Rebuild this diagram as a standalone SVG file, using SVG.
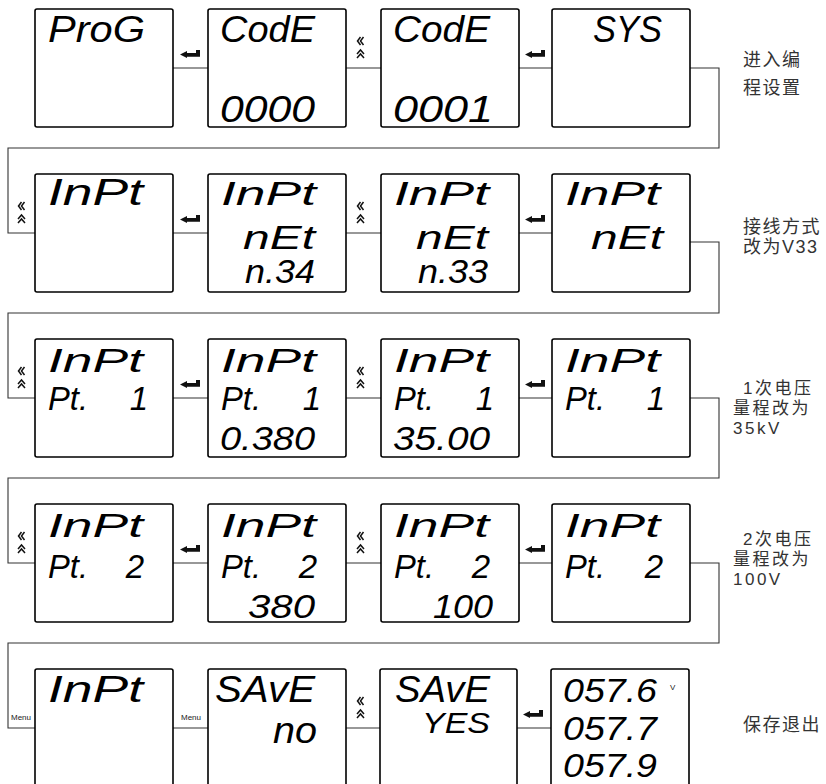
<svg xmlns="http://www.w3.org/2000/svg" xmlns:xlink="http://www.w3.org/1999/xlink" width="826" height="784" viewBox="0 0 826 784">
<style>
.box{fill:#fff;stroke:#000;stroke-width:1.6}
.conn{fill:none;stroke:#333;stroke-width:1.1}
.lcd{font-family:"Liberation Sans",Arial,sans-serif;font-style:italic;font-size:36px;fill:#000}
.lcd3{font-family:"Liberation Sans",Arial,sans-serif;font-style:italic;font-size:33px;fill:#000}
.lcd2{font-family:"Liberation Sans",Arial,sans-serif;font-style:italic;font-size:29px;fill:#000}
.lab{font-family:"Liberation Sans","Noto Sans CJK SC",sans-serif;font-size:18px;fill:#333;letter-spacing:1.5px}
.lab3{font-family:"Liberation Sans","Noto Sans CJK SC",sans-serif;font-size:17px;fill:#333;letter-spacing:2.5px}
.menu{font-family:"Liberation Sans",Arial,sans-serif;font-size:8px;fill:#222}
.ic{fill:none;stroke:#111;stroke-width:1.5}
</style>
<defs>
<path id="enter" d="M0,4.5 L7,1 V3 H16 V0 H20 V6.8 H7 V8 Z" fill="#111"/>
<g id="chev"><path class="ic" d="M3.5,0 L0.5,4 L3.5,8 M6.5,0 L3.5,4 L6.5,8 M0,17 L3.5,13 L7,17 M0,21 L3.5,17 L7,21"/></g>
</defs>
<g id="connectors">
<path class="conn" d="M173,68 H208 M346,68 H381 M519,68 H552 M690,68 H719 V148 H8 V233 H35"/>
<path class="conn" d="M173,233 H208 M346,233 H381 M519,233 H552 M690,242 H719 V313 H8 V398 H35"/>
<path class="conn" d="M173,398 H208 M346,398 H381 M519,398 H552 M690,398 H719 V478 H8 V563 H35"/>
<path class="conn" d="M173,563 H208 M346,563 H381 M519,563 H552 M690,563 H719 V643 H8 V728 H35"/>
<path class="conn" d="M173,728 H208 M346,728 H380 M517,728 H551"/>
<use xlink:href="#enter" x="180" y="50"/><use xlink:href="#chev" x="357" y="37"/><use xlink:href="#enter" x="525" y="50"/>
<use xlink:href="#chev" x="18" y="202"/><use xlink:href="#enter" x="180" y="215"/><use xlink:href="#chev" x="357" y="202"/><use xlink:href="#enter" x="525" y="215"/>
<use xlink:href="#chev" x="18" y="367"/><use xlink:href="#enter" x="180" y="380"/><use xlink:href="#chev" x="357" y="367"/><use xlink:href="#enter" x="525" y="380"/>
<use xlink:href="#chev" x="18" y="532"/><use xlink:href="#enter" x="180" y="545"/><use xlink:href="#chev" x="357" y="532"/><use xlink:href="#enter" x="525" y="545"/>
<text class="menu" x="11" y="720">Menu</text><text class="menu" x="181" y="720">Menu</text>
<use xlink:href="#chev" x="357" y="697"/><use xlink:href="#enter" x="523" y="710"/>
</g>
<!-- Row 1 -->
<g id="r1b1"><rect class="box" x="35" y="9" width="138" height="118" rx="2"/><text class="lcd" x="48" y="42" textLength="97" lengthAdjust="spacingAndGlyphs">ProG</text></g>
<g id="r1b2"><rect class="box" x="208" y="9" width="138" height="118" rx="2"/><text class="lcd" x="220" y="42" textLength="95" lengthAdjust="spacingAndGlyphs">CodE</text><text class="lcd" x="220" y="122" textLength="95" lengthAdjust="spacingAndGlyphs">0000</text></g>
<g id="r1b3"><rect class="box" x="381" y="9" width="138" height="118" rx="2"/><text class="lcd" x="393" y="42" textLength="97" lengthAdjust="spacingAndGlyphs">CodE</text><text class="lcd" x="393" y="122" textLength="100" lengthAdjust="spacingAndGlyphs">0001</text></g>
<g id="r1b4"><rect class="box" x="552" y="9" width="138" height="118" rx="2"/><text class="lcd" x="593" y="42" textLength="69" lengthAdjust="spacingAndGlyphs">SYS</text></g>
<g id="r1lab"><text class="lab" x="743" y="66">进入编</text><text class="lab" x="743" y="94">程设置</text></g>
<!-- Row 2 -->
<g id="r2b1"><rect class="box" x="35" y="174" width="138" height="118" rx="2"/><text class="lcd" x="48" y="205" textLength="95" lengthAdjust="spacingAndGlyphs">InPt</text></g>
<g id="r2b2"><rect class="box" x="208" y="174" width="138" height="118" rx="2"/><text class="lcd3" x="221" y="205" textLength="95" lengthAdjust="spacingAndGlyphs">InPt</text><text class="lcd3" x="243" y="249" textLength="72" lengthAdjust="spacingAndGlyphs">nEt</text><text class="lcd3" x="245" y="283" textLength="70" lengthAdjust="spacingAndGlyphs">n.34</text></g>
<g id="r2b3"><rect class="box" x="381" y="174" width="138" height="118" rx="2"/><text class="lcd3" x="394" y="205" textLength="95" lengthAdjust="spacingAndGlyphs">InPt</text><text class="lcd3" x="416" y="249" textLength="72" lengthAdjust="spacingAndGlyphs">nEt</text><text class="lcd3" x="418" y="283" textLength="70" lengthAdjust="spacingAndGlyphs">n.33</text></g>
<g id="r2b4"><rect class="box" x="552" y="174" width="138" height="118" rx="2"/><text class="lcd3" x="565" y="205" textLength="95" lengthAdjust="spacingAndGlyphs">InPt</text><text class="lcd3" x="591" y="249" textLength="72" lengthAdjust="spacingAndGlyphs">nEt</text></g>
<g id="r2lab"><text class="lab" x="743" y="233">接线方式</text><text class="lab" x="743" y="253">改为V33</text></g>
<!-- Row 3 -->
<g id="r3b1"><rect class="box" x="35" y="339" width="138" height="118" rx="2"/><text class="lcd3" x="48" y="372" textLength="95" lengthAdjust="spacingAndGlyphs">InPt</text><text class="lcd3" x="48" y="410" textLength="40" lengthAdjust="spacingAndGlyphs">Pt.</text><text class="lcd3" x="148" y="410" text-anchor="end">1</text></g>
<g id="r3b2"><rect class="box" x="208" y="339" width="138" height="118" rx="2"/><text class="lcd3" x="221" y="372" textLength="95" lengthAdjust="spacingAndGlyphs">InPt</text><text class="lcd3" x="221" y="410" textLength="40" lengthAdjust="spacingAndGlyphs">Pt.</text><text class="lcd3" x="321" y="410" text-anchor="end">1</text><text class="lcd3" x="220" y="450" textLength="95" lengthAdjust="spacingAndGlyphs">0.380</text></g>
<g id="r3b3"><rect class="box" x="381" y="339" width="138" height="118" rx="2"/><text class="lcd3" x="394" y="372" textLength="95" lengthAdjust="spacingAndGlyphs">InPt</text><text class="lcd3" x="394" y="410" textLength="40" lengthAdjust="spacingAndGlyphs">Pt.</text><text class="lcd3" x="494" y="410" text-anchor="end">1</text><text class="lcd3" x="393" y="450" textLength="97" lengthAdjust="spacingAndGlyphs">35.00</text></g>
<g id="r3b4"><rect class="box" x="552" y="339" width="138" height="118" rx="2"/><text class="lcd3" x="565" y="372" textLength="95" lengthAdjust="spacingAndGlyphs">InPt</text><text class="lcd3" x="565" y="410" textLength="40" lengthAdjust="spacingAndGlyphs">Pt.</text><text class="lcd3" x="665" y="410" text-anchor="end">1</text></g>
<g id="r3lab"><text class="lab3" x="743" y="394">1次电压</text><text class="lab3" x="733" y="414">量程改为</text><text class="lab3" x="733" y="434">35kV</text></g>
<!-- Row 4 -->
<g id="r4b1"><rect class="box" x="35" y="504" width="138" height="118" rx="2"/><text class="lcd3" x="48" y="537" textLength="95" lengthAdjust="spacingAndGlyphs">InPt</text><text class="lcd3" x="48" y="578" textLength="40" lengthAdjust="spacingAndGlyphs">Pt.</text><text class="lcd3" x="144" y="578" text-anchor="end">2</text></g>
<g id="r4b2"><rect class="box" x="208" y="504" width="138" height="118" rx="2"/><text class="lcd3" x="221" y="537" textLength="95" lengthAdjust="spacingAndGlyphs">InPt</text><text class="lcd3" x="221" y="578" textLength="40" lengthAdjust="spacingAndGlyphs">Pt.</text><text class="lcd3" x="317" y="578" text-anchor="end">2</text><text class="lcd3" x="248" y="618" textLength="67" lengthAdjust="spacingAndGlyphs">380</text></g>
<g id="r4b3"><rect class="box" x="381" y="504" width="138" height="118" rx="2"/><text class="lcd3" x="394" y="537" textLength="95" lengthAdjust="spacingAndGlyphs">InPt</text><text class="lcd3" x="394" y="578" textLength="40" lengthAdjust="spacingAndGlyphs">Pt.</text><text class="lcd3" x="490" y="578" text-anchor="end">2</text><text class="lcd3" x="433" y="618" textLength="60" lengthAdjust="spacingAndGlyphs">100</text></g>
<g id="r4b4"><rect class="box" x="552" y="504" width="138" height="118" rx="2"/><text class="lcd3" x="565" y="537" textLength="95" lengthAdjust="spacingAndGlyphs">InPt</text><text class="lcd3" x="565" y="578" textLength="40" lengthAdjust="spacingAndGlyphs">Pt.</text><text class="lcd3" x="663" y="578" text-anchor="end">2</text></g>
<g id="r4lab"><text class="lab3" x="743" y="545">2次电压</text><text class="lab3" x="733" y="565">量程改为</text><text class="lab3" x="733" y="585">100V</text></g>
<!-- Row 5 -->
<g id="r5b1"><rect class="box" x="35" y="669" width="138" height="130" rx="2"/><text class="lcd" x="48" y="702" textLength="95" lengthAdjust="spacingAndGlyphs">InPt</text></g>
<g id="r5b2"><rect class="box" x="208" y="669" width="138" height="130" rx="2"/><text class="lcd" x="215" y="702" textLength="100" lengthAdjust="spacingAndGlyphs">SAvE</text><text class="lcd" x="273" y="743" textLength="44" lengthAdjust="spacingAndGlyphs">no</text></g>
<g id="r5b3"><rect class="box" x="380" y="669" width="137" height="130" rx="2"/><text class="lcd" x="395" y="702" textLength="95" lengthAdjust="spacingAndGlyphs">SAvE</text><text class="lcd2" x="422" y="733" textLength="68" lengthAdjust="spacingAndGlyphs">YES</text></g>
<g id="r5b4"><rect class="box" x="551" y="669" width="138" height="130" rx="2"/><text class="lcd3" x="563" y="702" textLength="94" lengthAdjust="spacingAndGlyphs">057.6</text><text class="menu" x="670" y="690">V</text><text class="lcd3" x="563" y="740" textLength="94" lengthAdjust="spacingAndGlyphs">057.7</text><text class="lcd3" x="563" y="777" textLength="94" lengthAdjust="spacingAndGlyphs">057.9</text></g>
<g id="r5lab"><text class="lab" x="743" y="731">保存退出</text></g>
</svg>
